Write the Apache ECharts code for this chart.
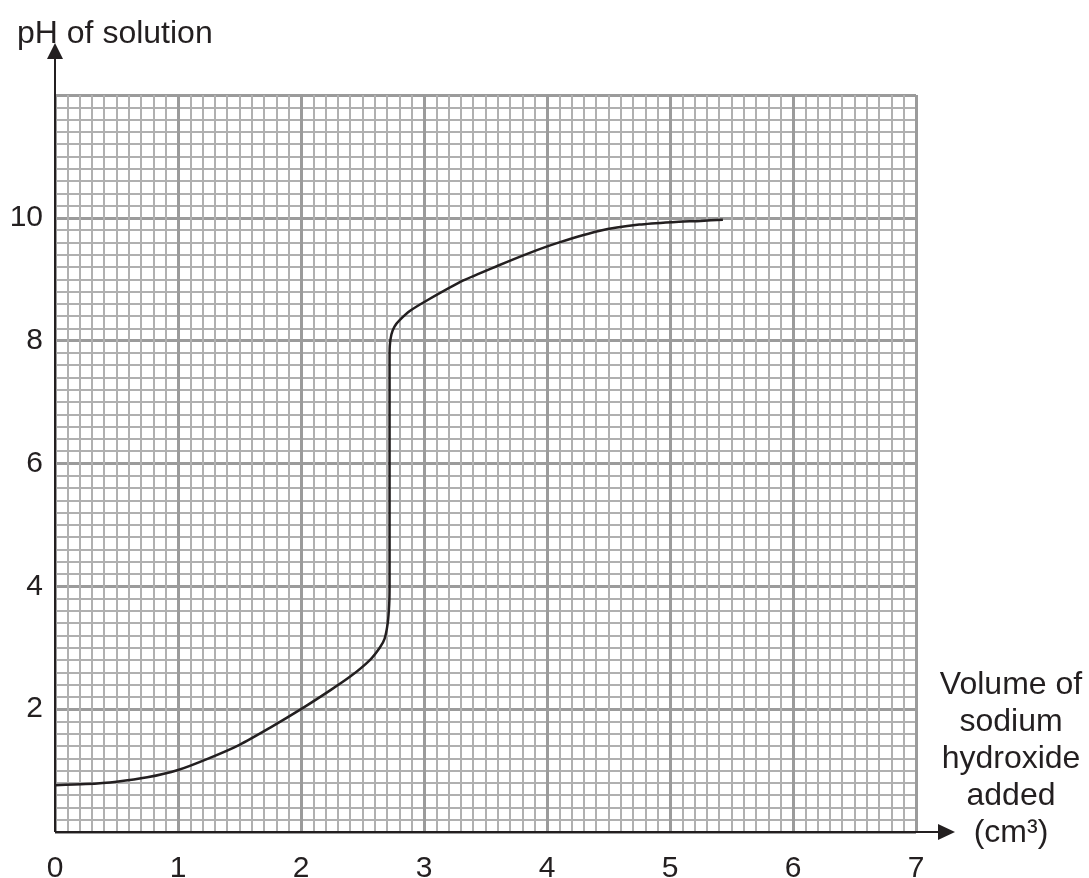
<!DOCTYPE html>
<html>
<head>
<meta charset="utf-8">
<script src="https://cdn.jsdelivr.net/npm/echarts@6/dist/echarts.min.js"></script>
<style>
  html, body { margin: 0; padding: 0; background: #fff; }
  #chart { width: 1089px; height: 878px; }
</style>
</head>
<body>
<div id="chart"></div>
<script>
// titration curve
var volumeAdded = [0, 0.25, 0.5, 0.75, 1.0, 1.25, 1.5, 1.75, 2.0, 2.24, 2.4, 2.56, 2.64, 2.68, 2.705, 2.717, 2.72,
  2.72, 2.722, 2.735, 2.76, 2.8, 2.89, 3.02, 3.32, 3.6, 3.86, 4.1, 4.43, 4.75, 5.02, 5.25, 5.43];
var phValue = [0.76, 0.78, 0.82, 0.89, 1.01, 1.2, 1.42, 1.7, 2.0, 2.31, 2.53, 2.8, 3.0, 3.15, 3.4, 3.7, 4.0,
  7.7, 7.92, 8.1, 8.23, 8.33, 8.49, 8.65, 8.98, 9.22, 9.43, 9.6, 9.79, 9.89, 9.93, 9.95, 9.97];
var yAxisTitle = "pH of solution";
var xAxisTitle = ["Volume of", "sodium", "hydroxide", "added", "(cm³)"];

var font = "Liberation Sans, Arial, sans-serif";
var majorColor = "#9b9b9b";
var minorColor = "#b0b0b0";

var curve = [];
for (var i = 0; i < volumeAdded.length; i++) {
  curve.push([volumeAdded[i], phValue[i]]);
}

var myChart = echarts.init(document.getElementById("chart"));
var option = {
  animation: false,
  title: [
    {
      text: yAxisTitle,
      left: 12,
      top: 13,
      textStyle: { fontFamily: font, fontSize: 32, fontWeight: "normal", color: "#231f20" }
    },
    {
      // x axis title sits to the right of the arrow, stacked on five lines
      text: xAxisTitle.join("\n"),
      left: 1006,
      top: 662,
      textAlign: "center",
      textStyle: { fontFamily: font, fontSize: 32, fontWeight: "normal", color: "#231f20", lineHeight: 37 }
    }
  ],
  grid: { left: 55, right: 173, top: 95, bottom: 46, outerBoundsMode: "none" },
  xAxis: {
    type: "value",
    min: 0,
    max: 7,
    interval: 1,
    axisLine: { show: false },
    axisTick: { show: false },
    axisLabel: { margin: 22, fontFamily: font, fontSize: 30, color: "#231f20" },
    splitLine: { show: true, lineStyle: { color: majorColor, width: 3 } },
    minorTick: { show: false, splitNumber: 10 },
    minorSplitLine: { show: true, lineStyle: { color: minorColor, width: 2 } }
  },
  yAxis: {
    type: "value",
    min: 0,
    max: 12,
    interval: 2,
    axisLine: { show: false },
    axisTick: { show: false },
    axisLabel: {
      margin: 12,
      fontFamily: font,
      fontSize: 30,
      color: "#231f20",
      formatter: function(value) {
        return value === 0 || value === 12 ? "" : String(value);
      }
    },
    splitLine: { show: true, lineStyle: { color: majorColor, width: 3 } },
    minorTick: { show: false, splitNumber: 10 },
    minorSplitLine: { show: true, lineStyle: { color: minorColor, width: 2 } }
  },
  series: [
    {
      type: "line",
      data: curve,
      showSymbol: false,
      smooth: 0.25,
      lineStyle: { color: "#231f20", width: 2.5 },
      z: 5
    }
  ]
};
myChart.setOption(option);

// axis lines with arrow heads, running past the grid like on graph paper
var origin = myChart.convertToPixel({ gridIndex: 0 }, [0, 0]);
var xEnd = myChart.convertToPixel({ gridIndex: 0 }, [7, 0]);
var yEnd = myChart.convertToPixel({ gridIndex: 0 }, [0, 12]);
var xTip = xEnd[0] + 39;
var yTip = yEnd[1] - 52;
var axisStyle = { stroke: "#231f20", lineWidth: 2 };
myChart.setOption({
  graphic: [
    { type: "line", z: 10, shape: { x1: origin[0], y1: origin[1], x2: xTip - 12, y2: origin[1] }, style: axisStyle },
    { type: "line", z: 10, shape: { x1: origin[0], y1: origin[1], x2: origin[0], y2: yTip + 12 }, style: axisStyle },
    { type: "polygon", z: 10, shape: { points: [[xTip, origin[1]], [xTip - 17, origin[1] - 8], [xTip - 17, origin[1] + 8]] }, style: { fill: "#231f20" } },
    { type: "polygon", z: 10, shape: { points: [[origin[0], yTip], [origin[0] - 8, yTip + 16], [origin[0] + 8, yTip + 16]] }, style: { fill: "#231f20" } }
  ]
});
</script>
</body>
</html>
